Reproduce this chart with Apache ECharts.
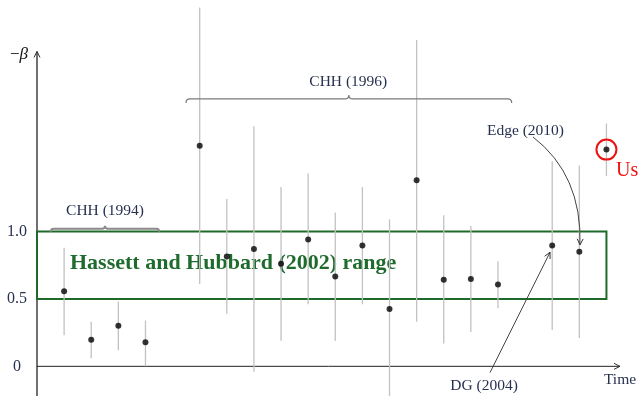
<!DOCTYPE html>
<html>
<head>
<meta charset="utf-8">
<script src="https://cdn.jsdelivr.net/npm/echarts@6/dist/echarts.min.js"></script>
<style>
  html, body { margin: 0; padding: 0; background: #fff; }
  #chart { width: 639px; height: 396px; }
</style>
</head>
<body>
<div id="chart"></div>
<script>
// Study positions along the time axis (gaps at 4 and 17)
const positions   = [0, 1, 2, 3, 5, 6, 7, 8, 9, 10, 11, 12, 13, 14, 15, 16, 18, 19, 20];
// Point estimates of -beta
const estimates   = [0.556, 0.198, 0.30, 0.178, 1.635, 0.815, 0.87, 0.76, 0.94, 0.667, 0.896, 0.425, 1.38, 0.642, 0.647, 0.607, 0.896, 0.85, 1.607];
// Confidence interval bounds
const lowerBounds = [0.23, 0.06, 0.12, 0.0, 0.61, 0.39, -0.04, 0.19, 0.46, 0.19, 0.46, -0.22, 0.33, 0.17, 0.255, 0.43, 0.27, 0.21, 1.41];
const upperBounds = [0.88, 0.33, 0.48, 0.34, 2.66, 1.24, 1.78, 1.33, 1.43, 1.14, 1.33, 1.09, 2.42, 1.12, 1.04, 0.78, 1.52, 1.49, 1.80];

// Y axis ticks
const tickValues = [0, 0.5, 1.0];
const tickLabels = ['0', '0.5', '1.0'];

// Hassett and Hubbard (2002) range: x span and -beta span
const hhSpanX = [-1, 20];
const hhRange = [0.5, 1.0];
const hhText  = 'Hassett and Hubbard (2002) range';

// Axis extents in data units
const axisX = [-1, 20.5];
const axisY = [-0.22, 2.335];

// Braces grouping studies
const braces = [
  { from: -0.495, to: 3.51, level: 1.02, depth: 3, width: 1.8, color: '#8a8a8a' },
  { from: 4.495, to: 16.506, level: 1.983, depth: 4, width: 1.2, color: '#7a7a7a' }
];

// Text notes anchored in data coordinates
const notes = [
  { text: 'CHH (1994)',  at: [1.508, 1.153], align: 'center' },
  { text: 'CHH (1996)',  at: [10.48, 2.109], align: 'center' },
  { text: 'Edge (2010)', at: [17.015, 1.742], align: 'center' },
  { text: 'DG (2004)',   at: [15.485, -0.147], align: 'center' },
  { text: 'Time',        at: [20.5, -0.102], align: 'center' }
];

// Pointer arrows: curved (Edge) and straight (DG)
const pointers = [
  { from: [17.29, 1.701], ctrl: [19.10, 1.42], to: [19.025, 0.901] },
  { from: [15.705, -0.047], ctrl: null, to: [17.92, 0.846] }
];

const errorData = positions.map((x, i) => [x, lowerBounds[i], upperBounds[i]]);
const pointData = positions.map((x, i) => [x, estimates[i]]);
const lastIdx = positions.length - 1;

const TEXT_COLOR = '#27304f';
const SERIF = '"Liberation Serif", "DejaVu Serif", serif';

function arrowHead(tip, dir, len, half) {
  const n = Math.hypot(dir[0], dir[1]);
  const ux = dir[0] / n, uy = dir[1] / n;
  const bx = tip[0] - len * ux, by = tip[1] - len * uy;
  return {
    type: 'polyline',
    shape: { points: [[bx - half * uy, by + half * ux], tip, [bx + half * uy, by - half * ux]] },
    style: { stroke: '#333', lineWidth: 1, fill: null }
  };
}

const chart = echarts.init(document.getElementById('chart'), null, { renderer: 'canvas' });

chart.setOption({
  animation: false,
  backgroundColor: '#fff',
  grid: { left: 37, right: 19, top: 2.2, height: 394.2 },
  xAxis: {
    type: 'value', min: axisX[0], max: axisX[1],
    axisLine: { show: false }, axisTick: { show: false },
    axisLabel: { show: false }, splitLine: { show: false }
  },
  yAxis: {
    type: 'value', min: -0.22, max: 2.7,
    axisLine: { show: false }, axisTick: { show: false }, splitLine: { show: false },
    axisLabel: {
      customValues: tickValues,
      formatter: v => tickLabels[tickValues.findIndex(t => Math.abs(t - v) < 1e-9)] ?? '',
      align: 'center', margin: 20,
      fontFamily: SERIF, fontSize: 16, color: TEXT_COLOR
    }
  },
  series: [
    {
      // axes with arrow tips
      type: 'custom', silent: true, clip: false, z: 1,
      data: [[0]],
      renderItem(params, api) {
        const yb = api.coord([axisX[0], axisY[0]]);
        const yt = api.coord([axisX[0], axisY[1]]);
        const xl = api.coord([axisX[0], 0]);
        const xr = api.coord([axisX[1], 0]);
        return {
          type: 'group',
          children: [
            { type: 'line', shape: { x1: yb[0], y1: yb[1], x2: yt[0], y2: yt[1] }, style: { stroke: '#111', lineWidth: 1.2 } },
            arrowHead(yt, [0, -1], 6, 3),
            { type: 'line', shape: { x1: xl[0], y1: xl[1], x2: xr[0], y2: xr[1] }, style: { stroke: '#222', lineWidth: 1 } },
            arrowHead(xr, [1, 0], 6, 3),
            {
              type: 'text',
              style: {
                x: yt[0] - 9, y: yt[1] + 3.5,
                text: '{m|−}{b|β}',
                align: 'right', verticalAlign: 'middle',
                rich: {
                  m: { fontFamily: SERIF, fontSize: 17, fill: '#111' },
                  b: { fontFamily: SERIF, fontSize: 17, fontStyle: 'italic', fill: '#111' }
                }
              }
            }
          ]
        };
      }
    },
    {
      // Hassett and Hubbard range box
      type: 'custom', silent: true, clip: false, z: 2,
      data: [[hhSpanX[0], hhRange[0], hhSpanX[1], hhRange[1]]],
      renderItem(params, api) {
        const p0 = api.coord([api.value(0), api.value(3)]);
        const p1 = api.coord([api.value(2), api.value(1)]);
        const tp = api.coord([0.217, 0.761]);
        return {
          type: 'group',
          children: [
            { type: 'rect', shape: { x: p0[0], y: p0[1], width: p1[0] - p0[0], height: p1[1] - p0[1] },
              style: { fill: null, stroke: '#1e6a28', lineWidth: 2 } },
            { type: 'text', z2: 20, style: { x: tp[0], y: tp[1], text: hhText, align: 'left', verticalAlign: 'middle',
              fontFamily: SERIF, fontSize: 22, fontWeight: 'bold', fill: '#1f6b2e' } }
          ]
        };
      }
    },
    {
      // confidence intervals
      type: 'custom', silent: true, clip: false, z: 3,
      data: errorData,
      encode: { x: 0, y: [1, 2] },
      renderItem(params, api) {
        const x = api.value(0);
        const lo = api.coord([x, api.value(1)]);
        const hi = api.coord([x, api.value(2)]);
        return { type: 'line', shape: { x1: lo[0], y1: lo[1], x2: hi[0], y2: hi[1] },
          style: { stroke: '#c2c2c2', lineWidth: 1.3 } };
      }
    },
    {
      // point estimates
      type: 'scatter', silent: true, z: 5,
      data: pointData,
      symbol: 'circle', symbolSize: 6,
      itemStyle: { color: '#000' }
    },
    {
      // braces over study groups
      type: 'custom', silent: true, clip: false, z: 4,
      data: braces.map(b => [b.from, b.to, b.level]),
      renderItem(params, api) {
        const b = braces[params.dataIndex];
        const a = api.coord([api.value(0), api.value(2)]);
        const c = api.coord([api.value(1), api.value(2)]);
        const y = a[1], x1 = a[0], x2 = c[0], xm = (x1 + x2) / 2, d = b.depth;
        const path = `M${x1},${y + d} Q${x1},${y} ${x1 + d},${y} L${xm - d},${y} Q${xm},${y} ${xm},${y - d} Q${xm},${y} ${xm + d},${y} L${x2 - d},${y} Q${x2},${y} ${x2},${y + d}`;
        return { type: 'path', shape: { pathData: path }, style: { fill: null, stroke: b.color, lineWidth: b.width } };
      }
    },
    {
      // text notes
      type: 'custom', silent: true, clip: false, z: 6,
      data: notes.map(n => n.at),
      renderItem(params, api) {
        const n = notes[params.dataIndex];
        const p = api.coord([api.value(0), api.value(1)]);
        return { type: 'text', style: { x: p[0], y: p[1], text: n.text, align: n.align, verticalAlign: 'middle',
          fontFamily: SERIF, fontSize: 15.5, fill: TEXT_COLOR } };
      }
    },
    {
      // pointer arrows
      type: 'custom', silent: true, clip: false, z: 6,
      data: pointers.map(p => [p.from[0], p.from[1], p.to[0], p.to[1]]),
      renderItem(params, api) {
        const ptr = pointers[params.dataIndex];
        const s = api.coord(ptr.from);
        const e = api.coord(ptr.to);
        const children = [];
        let dir;
        if (ptr.ctrl) {
          const c = api.coord(ptr.ctrl);
          children.push({ type: 'bezierCurve', shape: { x1: s[0], y1: s[1], cpx1: c[0], cpy1: c[1], x2: e[0], y2: e[1] },
            style: { stroke: '#444', lineWidth: 1, fill: null } });
          dir = [e[0] - c[0], e[1] - c[1]];
        } else {
          children.push({ type: 'line', shape: { x1: s[0], y1: s[1], x2: e[0], y2: e[1] },
            style: { stroke: '#444', lineWidth: 1 } });
          dir = [e[0] - s[0], e[1] - s[1]];
        }
        children.push(arrowHead(e, dir, 6, 3));
        return { type: 'group', children };
      }
    },
    {
      // highlight of the latest estimate
      type: 'custom', silent: true, clip: false, z: 7,
      data: [[positions[lastIdx], estimates[lastIdx]]],
      renderItem(params, api) {
        const p = api.coord([api.value(0), api.value(1)]);
        return {
          type: 'group',
          children: [
            { type: 'circle', shape: { cx: p[0], cy: p[1], r: 10 }, style: { fill: null, stroke: '#ee1111', lineWidth: 2 } },
            { type: 'text', style: { x: p[0] + 9.5, y: p[1] + 21, text: 'Us', align: 'left', verticalAlign: 'middle',
              fontFamily: SERIF, fontSize: 20, fill: '#ee1111' } }
          ]
        };
      }
    }
  ]
});
</script>
</body>
</html>
